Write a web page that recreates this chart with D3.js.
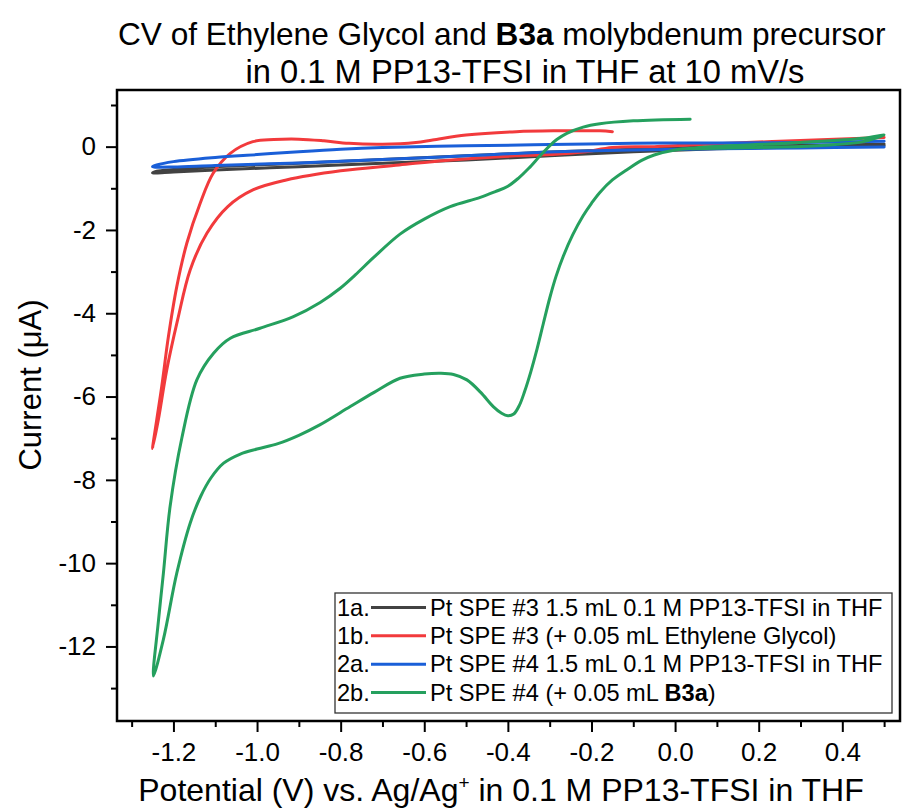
<!DOCTYPE html>
<html lang="en">
<head>
<meta charset="UTF-8">
<title>CV of Ethylene Glycol and B3a molybdenum precursor</title>
<script src="https://d3js.org/d3.v7.min.js"></script>
<style>
  body { margin: 0; background: #fff; font-family: "Liberation Sans", Arial, sans-serif; }
  .axis text { font-size: 26px; fill: #000; font-family: "Liberation Sans", Arial, sans-serif; }
  .axis line { stroke: #000; stroke-width: 2px; }
  .trace { fill: none; stroke-width: 3px; stroke-linejoin: round; stroke-linecap: round; }
</style>
</head>
<body>
<div id="chart"></div>
<script>
// potentials (V) and currents (uA), one loop per trace
const potential1a = [0.5, 0.3, 0.1, -0.1, -0.3, -0.5, -0.7, -0.9, -1.1, -1.2, -1.25, -1.24, -1.2, -1.1, -0.9, -0.7, -0.5, -0.3, -0.1, 0.1, 0.3, 0.5];
const current1a   = [0.03, -0.01, -0.05, -0.12, -0.22, -0.32, -0.40, -0.48, -0.56, -0.61, -0.63, -0.59, -0.55, -0.48, -0.40, -0.31, -0.22, -0.13, -0.06, 0.0, 0.03, 0.06];

const potential1b = [0.5, 0.3, 0.1, -0.05, -0.15, -0.22, -0.3, -0.42, -0.55, -0.66, -0.8, -0.93, -1.01, -1.07, -1.12, -1.16, -1.19, -1.216, -1.236, -1.25,
                     -1.228, -1.212, -1.192, -1.168, -1.136, -1.105, -1.064, -1.01, -0.96, -0.9, -0.84, -0.78, -0.7, -0.62, -0.58, -0.5, -0.38, -0.28, -0.18, -0.15];
const current1b   = [0.22, 0.15, 0.07, 0.0, -0.02, -0.13, -0.19, -0.24, -0.33, -0.44, -0.58, -0.80, -1.04, -1.44, -2.08, -2.96, -4.16, -5.36, -6.55, -7.25,
                     -5.76, -4.56, -3.36, -2.32, -1.36, -0.64, -0.16, 0.12, 0.17, 0.18, 0.14, 0.08, 0.06, 0.1, 0.16, 0.28, 0.36, 0.38, 0.38, 0.36];

const potential2a = [0.5, 0.3, 0.1, -0.1, -0.3, -0.5, -0.7, -0.9, -1.1, -1.2, -1.25, -1.24, -1.2, -1.1, -1.0, -0.9, -0.8, -0.7, -0.5, -0.3, -0.1, 0.1, 0.3, 0.5];
const current2a   = [-0.01, -0.03, -0.05, -0.08, -0.13, -0.22, -0.31, -0.39, -0.45, -0.49, -0.48, -0.44, -0.36, -0.26, -0.19, -0.12, -0.06, -0.02, 0.02, 0.05, 0.08, 0.09, 0.10, 0.13];

const potential2b = [0.04, 0.2, 0.35, 0.45, 0.5, 0.45, 0.3, 0.15, 0.05, 0.0, -0.05, -0.08, -0.116, -0.15, -0.18, -0.2, -0.22, -0.245, -0.267, -0.285, -0.30, -0.315,
                     -0.33, -0.345, -0.36, -0.372, -0.386, -0.40, -0.415, -0.435, -0.465, -0.498, -0.53, -0.56, -0.6, -0.658, -0.72, -0.777, -0.85, -0.9, -0.95,
                     -1.0, -1.04, -1.08, -1.11, -1.135, -1.16, -1.192, -1.224, -1.248,
                     -1.236, -1.224, -1.208, -1.18, -1.144, -1.104, -1.064, -0.993, -0.913, -0.849, -0.801, -0.765, -0.721, -0.658, -0.6, -0.538, -0.466, -0.43,
                     -0.40, -0.375, -0.35, -0.323, -0.3, -0.283, -0.259, -0.22, -0.18, -0.1, 0.036];
const current2b   = [-0.05, -0.02, 0.03, 0.12, 0.28, 0.2, 0.1, 0.03, -0.03, -0.08, -0.2, -0.33, -0.56, -0.8, -1.1, -1.36, -1.66, -2.12, -2.62, -3.12, -3.64, -4.24,
                     -4.85, -5.4, -5.88, -6.2, -6.42, -6.46, -6.4, -6.24, -5.9, -5.6, -5.47, -5.44, -5.46, -5.56, -5.9, -6.24, -6.68, -6.93, -7.13,
                     -7.26, -7.38, -7.6, -7.95, -8.4, -9.04, -10.24, -11.83, -12.71,
                     -11.4, -10.24, -8.64, -7.0, -5.6, -4.96, -4.6, -4.36, -4.08, -3.74, -3.4, -3.08, -2.66, -2.1, -1.74, -1.44, -1.22, -1.08,
                     -0.95, -0.76, -0.52, -0.22, 0.02, 0.17, 0.32, 0.47, 0.55, 0.62, 0.66];

const seriesIds    = ["1a.", "1b.", "2a.", "2b."];
const seriesColors = ["#424242", "#f23a3c", "#1a5fd8", "#25a05e"];

const xMajor = [-1.2, -1.0, -0.8, -0.6, -0.4, -0.2, 0.0, 0.2, 0.4];
const xMinor = [-1.3, -1.1, -0.9, -0.7, -0.5, -0.3, -0.1, 0.1, 0.3, 0.5];
const yMajor = [-12, -10, -8, -6, -4, -2, 0];
const yMinor = [-13, -11, -9, -7, -5, -3, -1, 1];

const width = 916, height = 809;
const plot = { left: 117, top: 90, right: 900, bottom: 721 };

const svg = d3.select("#chart")
  .append("svg")
  .attr("width", width)
  .attr("height", height)
  .style("display", "block");

svg.append("rect").attr("width", width).attr("height", height).attr("fill", "#fff");

const x = d3.scaleLinear().domain([-1.335, 0.538]).range([plot.left, plot.right]);
const y = d3.scaleLinear().domain([-13.79, 1.36]).range([plot.bottom, plot.top]);

// title
const t1 = svg.append("text")
  .attr("font-size", 31.6)
  .attr("x", 118).attr("y", 45);
t1.append("tspan").text("CV of Ethylene Glycol and ");
t1.append("tspan").attr("font-weight", "bold").text("B3a");
t1.append("tspan").text(" molybdenum precursor");
svg.append("text")
  .attr("font-size", 32.7)
  .attr("text-anchor", "middle")
  .attr("x", 525).attr("y", 83)
  .text("in 0.1 M PP13-TFSI in THF at 10 mV/s");

// axes
const fmtX = d => d.toFixed(1);
const fmtY = d => String(d);

const xAxis = svg.append("g").attr("class", "axis").attr("transform", `translate(0,${plot.bottom})`)
  .call(d3.axisBottom(x).tickValues(xMajor).tickFormat(fmtX).tickSize(11).tickSizeOuter(0).tickPadding(11));
xAxis.select(".domain").remove();
const xAxisMinor = svg.append("g").attr("class", "axis").attr("transform", `translate(0,${plot.bottom})`)
  .call(d3.axisBottom(x).tickValues(xMinor).tickFormat("").tickSize(6).tickSizeOuter(0));
xAxisMinor.select(".domain").remove();

const yAxis = svg.append("g").attr("class", "axis").attr("transform", `translate(${plot.left},0)`)
  .call(d3.axisLeft(y).tickValues(yMajor).tickFormat(fmtY).tickSize(11).tickSizeOuter(0).tickPadding(10));
yAxis.select(".domain").remove();
const yAxisMinor = svg.append("g").attr("class", "axis").attr("transform", `translate(${plot.left},0)`)
  .call(d3.axisLeft(y).tickValues(yMinor).tickFormat("").tickSize(6).tickSizeOuter(0));
yAxisMinor.select(".domain").remove();

// axis titles
const xTitle = svg.append("text")
  .attr("x", 501)
  .attr("y", 801)
  .attr("text-anchor", "middle")
  .attr("font-size", 32);
xTitle.append("tspan").text("Potential (V) vs. Ag/Ag");
xTitle.append("tspan").attr("font-size", 19).attr("dy", -12).text("+");
xTitle.append("tspan").attr("dy", 12).text(" in 0.1 M PP13-TFSI in THF");

svg.append("text")
  .attr("transform", "translate(41,385) rotate(-90)")
  .attr("text-anchor", "middle")
  .attr("font-size", 31)
  .text("Current (\u03bcA)");

// traces
const pairs = [
  d3.zip(potential1a, current1a),
  d3.zip(potential1b, current1b),
  d3.zip(potential2a, current2a),
  d3.zip(potential2b, current2b)
];

svg.append("clipPath").attr("id", "clip")
  .append("rect")
  .attr("x", plot.left).attr("y", plot.top)
  .attr("width", plot.right - plot.left).attr("height", plot.bottom - plot.top);

const line = d3.line()
  .x(d => x(d[0]))
  .y(d => y(d[1]))
  .curve(d3.curveCatmullRom.alpha(0.5));

svg.append("g").attr("clip-path", "url(#clip)")
  .selectAll("path")
  .data(pairs)
  .join("path")
  .attr("class", "trace")
  .attr("stroke", (d, i) => seriesColors[i])
  .attr("d", line);

// frame
svg.append("rect")
  .attr("x", plot.left).attr("y", plot.top)
  .attr("width", plot.right - plot.left).attr("height", plot.bottom - plot.top)
  .attr("fill", "none")
  .attr("stroke", "#000")
  .attr("stroke-width", 2.5);

// legend
const legend = svg.append("g").attr("transform", "translate(335,593)");
legend.append("rect")
  .attr("width", 557).attr("height", 120)
  .attr("fill", "#fff")
  .attr("stroke", "#333")
  .attr("stroke-width", 1.3);

const rowY = d3.scaleLinear().domain([0, 3]).range([14.5, 99.5]);
const rows = legend.selectAll("g.row")
  .data(seriesIds)
  .join("g")
  .attr("class", "row")
  .attr("transform", (d, i) => `translate(0,${rowY(i)})`);

rows.append("text").attr("x", 2).attr("dy", "0.35em").attr("font-size", 23.6).text(d => d);
rows.append("line")
  .attr("x1", 36).attr("x2", 91)
  .attr("stroke", (d, i) => seriesColors[i])
  .attr("stroke-width", 3);

const legendText = rows.append("text").attr("x", 95).attr("dy", "0.35em").attr("font-size", 23.6);
legendText.filter((d, i) => i === 0).text("Pt SPE #3 1.5 mL 0.1 M PP13-TFSI in THF");
legendText.filter((d, i) => i === 1).text("Pt SPE #3 (+ 0.05 mL Ethylene Glycol)");
legendText.filter((d, i) => i === 2).text("Pt SPE #4 1.5 mL 0.1 M PP13-TFSI in THF");
const last = legendText.filter((d, i) => i === 3);
last.append("tspan").text("Pt SPE #4 (+ 0.05 mL ");
last.append("tspan").attr("font-weight", "bold").text("B3a");
last.append("tspan").text(")");
</script>
</body>
</html>
